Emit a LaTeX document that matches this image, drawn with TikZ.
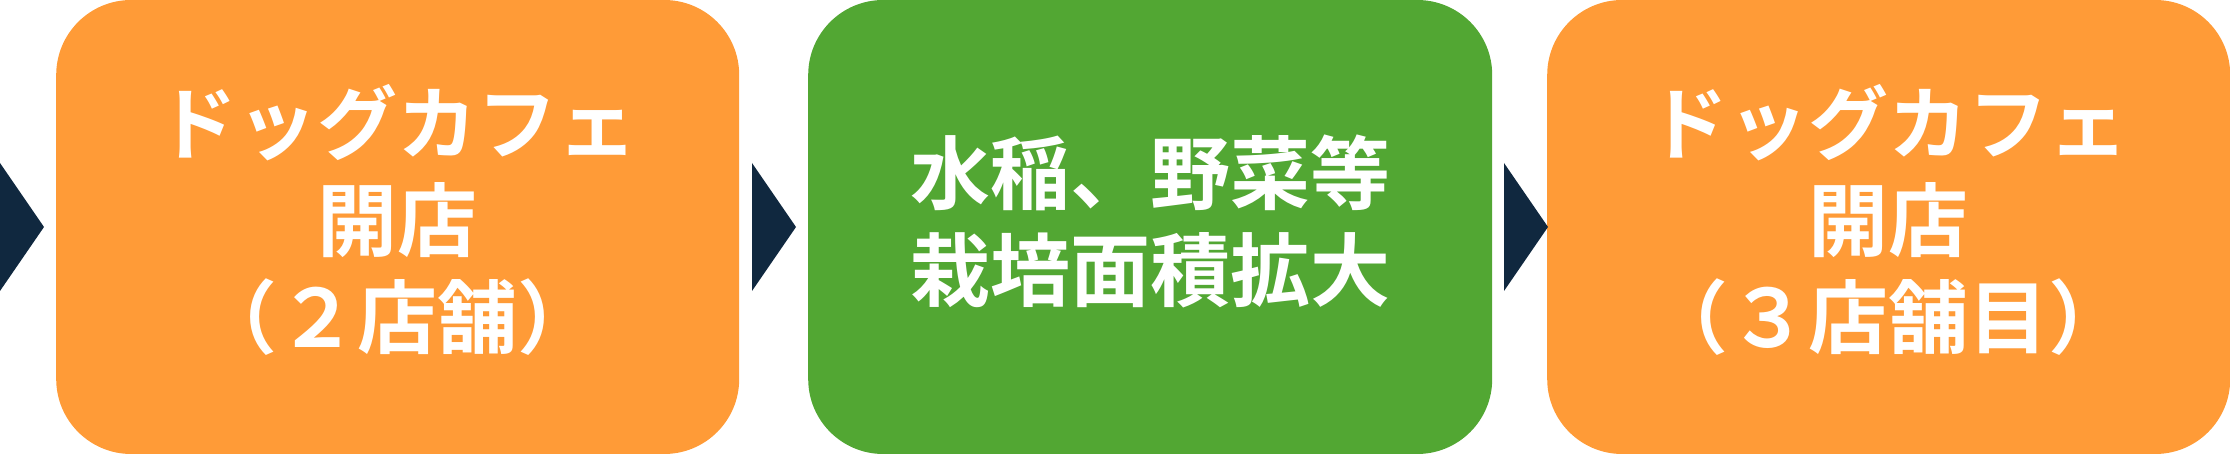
\documentclass[tikz,border=0pt]{standalone}
\usepackage{fontspec}
\newfontfamily\jpfont{Noto Sans CJK JP}[UprightFont=* Bold, Kerning=Off]
\usetikzlibrary{calc}
\definecolor{orangeA}{RGB}{255,155,55}
\definecolor{greenA}{RGB}{82,167,51}
\definecolor{navyA}{RGB}{16,40,63}
\begin{document}
\begin{tikzpicture}[x=1pt,y=1pt,
  stepbox/.style={rounded corners=75pt, minimum height=454pt, inner sep=0pt,
    anchor=west},
  steptext/.style={inner sep=0pt, text=white, align=center,
    font=\jpfont\fontsize{80}{97}\selectfont},
  chevron/.style={fill=navyA}
]
\useasboundingbox (0,0) rectangle (2230,454);
\node[stepbox, fill=orangeA, minimum width=683pt] (b1) at (56,227) {};
\node[stepbox, fill=greenA, minimum width=684pt] (b2) at (808,227) {};
\node[stepbox, fill=orangeA, minimum width=683pt] (b3) at (1547,227) {};
\node[steptext] (b1t) at ($(b1.center)+(0,7)$) {ドッグカフェ\\開店\\（２店舗）};
\node[steptext] (b2t) at ($(b2.center)+(0,6)$) {水稲、野菜等\\栽培面積拡大};
\node[steptext] (b3t) at ($(b3.center)+(0,7)$) {ドッグカフェ\\開店\\（３店舗目）};
\coordinate (t1) at ($(b1.west)+(-12,0)$);
\coordinate (t2) at ($(b2.west)+(-12,0)$);
\coordinate (t3) at ($(b3.west)+(1,0)$);
\fill[chevron] (t1) -- ++(-44,64) -- ++(0,-128) -- cycle;
\fill[chevron] (t2) -- ++(-44,64) -- ++(0,-128) -- cycle;
\fill[chevron] (t3) -- ++(-44,64) -- ++(0,-128) -- cycle;
\end{tikzpicture}
\end{document}
